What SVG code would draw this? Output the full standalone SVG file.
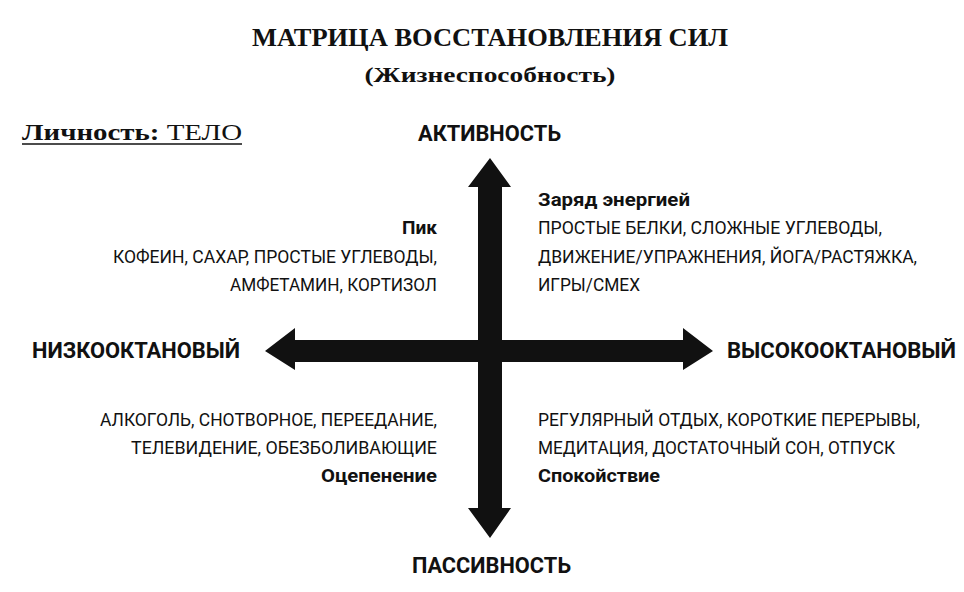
<svg xmlns="http://www.w3.org/2000/svg" width="964" height="592" viewBox="0 0 964 592">
<style>
.t{font-family:"Liberation Serif",serif;font-weight:bold;fill:#111}
.s{font-family:Roboto,"Liberation Sans",sans-serif;fill:#111;font-size:18px}
.b{font-weight:bold}
.ax{font-family:Roboto,"Liberation Sans",sans-serif;font-weight:bold;font-size:22px;fill:#111}
</style>
<rect width="964" height="592" fill="#fff"/>
<g id="title">
<text class="t" x="490" y="46" font-size="25" text-anchor="middle" textLength="476" lengthAdjust="spacingAndGlyphs">МАТРИЦА ВОССТАНОВЛЕНИЯ СИЛ</text>
<text class="t" x="490" y="82" font-size="21" text-anchor="middle" textLength="251" lengthAdjust="spacingAndGlyphs">(Жизнеспособность)</text>
</g>
<g id="persona">
<text class="t" x="22" y="140" font-size="24" textLength="220" lengthAdjust="spacingAndGlyphs">Личность: <tspan font-weight="normal">ТЕЛО</tspan></text>
<line x1="22" y1="144" x2="242" y2="144" stroke="#111" stroke-width="1.5"/>
</g>
<g id="connectors" fill="#111">
<polygon points="490,158 511,187 502,187 502,508 511,508 490,538 468,508 478,508 478,187 468,187"/>
<polygon points="265,351 295,328 295,340 683,340 683,328 713,351 683,370 683,362 295,362 295,370"/>
</g>
<g id="axis-labels">
<text class="ax" x="418" y="141" textLength="143" lengthAdjust="spacingAndGlyphs">АКТИВНОСТЬ</text>
<text class="ax" x="412" y="573" textLength="159" lengthAdjust="spacingAndGlyphs">ПАССИВНОСТЬ</text>
<text class="ax" x="32" y="358" textLength="208" lengthAdjust="spacingAndGlyphs">НИЗКООКТАНОВЫЙ</text>
<text class="ax" x="727" y="358" textLength="229" lengthAdjust="spacingAndGlyphs">ВЫСОКООКТАНОВЫЙ</text>
</g>
<g id="q-top-left" text-anchor="end">
<text class="s b" x="437" y="234" textLength="35" lengthAdjust="spacingAndGlyphs">Пик</text>
<text class="s" x="437" y="263" textLength="324" lengthAdjust="spacingAndGlyphs">КОФЕИН, САХАР, ПРОСТЫЕ УГЛЕВОДЫ,</text>
<text class="s" x="437" y="291" textLength="207" lengthAdjust="spacingAndGlyphs">АМФЕТАМИН, КОРТИЗОЛ</text>
</g>
<g id="q-top-right">
<text class="s b" x="538" y="206" textLength="152" lengthAdjust="spacingAndGlyphs">Заряд энергией</text>
<text class="s" x="538" y="234" textLength="344" lengthAdjust="spacingAndGlyphs">ПРОСТЫЕ БЕЛКИ, СЛОЖНЫЕ УГЛЕВОДЫ,</text>
<text class="s" x="538" y="263" textLength="379" lengthAdjust="spacingAndGlyphs">ДВИЖЕНИЕ/УПРАЖНЕНИЯ, ЙОГА/РАСТЯЖКА,</text>
<text class="s" x="538" y="291" textLength="102" lengthAdjust="spacingAndGlyphs">ИГРЫ/СМЕХ</text>
</g>
<g id="q-bottom-left" text-anchor="end">
<text class="s" x="437" y="426" textLength="337" lengthAdjust="spacingAndGlyphs">АЛКОГОЛЬ, СНОТВОРНОЕ, ПЕРЕЕДАНИЕ,</text>
<text class="s" x="437" y="454" textLength="306" lengthAdjust="spacingAndGlyphs">ТЕЛЕВИДЕНИЕ, ОБЕЗБОЛИВАЮЩИЕ</text>
<text class="s b" x="437" y="482" textLength="116" lengthAdjust="spacingAndGlyphs">Оцепенение</text>
</g>
<g id="q-bottom-right">
<text class="s" x="538" y="426" textLength="382" lengthAdjust="spacingAndGlyphs">РЕГУЛЯРНЫЙ ОТДЫХ, КОРОТКИЕ ПЕРЕРЫВЫ,</text>
<text class="s" x="538" y="454" textLength="357" lengthAdjust="spacingAndGlyphs">МЕДИТАЦИЯ, ДОСТАТОЧНЫЙ СОН, ОТПУСК</text>
<text class="s b" x="538" y="482" textLength="122" lengthAdjust="spacingAndGlyphs">Спокойствие</text>
</g>
</svg>
